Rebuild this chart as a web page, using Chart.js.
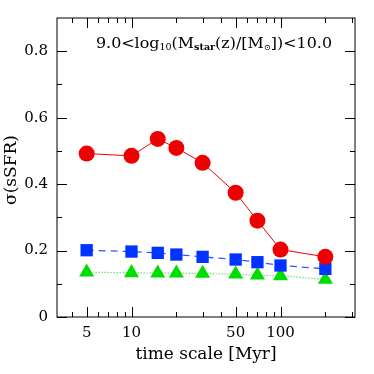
<!DOCTYPE html>
<html>
<head>
<meta charset="utf-8">
<script src="https://cdn.jsdelivr.net/npm/chart.js@4/dist/chart.umd.min.js"></script>
<style>
  html, body { margin: 0; padding: 0; background: #fff; }
  #wrap { width: 374px; height: 374px; }
</style>
</head>
<body>
<div id="wrap"><canvas id="c" width="374" height="374"></canvas></div>
<script>
// --- DATA ---
const timeScale = [5, 10, 15, 20, 30, 50, 70, 100, 200];
const sigmaRed = [0.492, 0.485, 0.536, 0.509, 0.464, 0.374, 0.290, 0.203, 0.181];
const sigmaBlue = [0.201, 0.197, 0.193, 0.188, 0.181, 0.173, 0.165, 0.155, 0.145];
const sigmaGreen = [0.135, 0.133, 0.132, 0.132, 0.131, 0.129, 0.126, 0.124, 0.113];

const xTickLabels = [5, 10, 50, 100];
const xMajorTicks = [5, 10, 50, 100];
const xMinorTicks = [4, 6, 7, 8, 9, 20, 30, 40, 60, 70, 80, 90, 200, 300];
const yTickLabels = [0, 0.2, 0.4, 0.6, 0.8];
const yMinorTicks = [0.1, 0.3, 0.5, 0.7];

const FONT = '"DejaVu Serif", "Liberation Serif", serif';

const pts = ys => timeScale.map((x, i) => ({ x: x, y: ys[i] }));

// draw text squeezed/stretched to a given width, centred at cx
function fitText(ctx, text, cx, cy, width) {
  const w = ctx.measureText(text).width;
  ctx.save();
  ctx.translate(cx, cy);
  ctx.scale(width / w, 1);
  ctx.textAlign = 'center';
  ctx.fillText(text, 0, 0);
  ctx.restore();
}

// frame, inside ticks, labels and annotation
const framePlugin = {
  id: 'frame',
  afterDraw(chart) {
    const ctx = chart.ctx;
    const a = chart.chartArea;
    const xs = chart.scales.x, ys = chart.scales.y;
    ctx.save();
    ctx.strokeStyle = '#000';
    ctx.lineWidth = 1;
    ctx.strokeRect(a.left, a.top, a.right - a.left, a.bottom - a.top);

    const vTick = (v, len) => {
      const px = Math.round(xs.getPixelForValue(v)) + 0.5;
      ctx.beginPath();
      ctx.moveTo(px, a.bottom); ctx.lineTo(px, a.bottom - len);
      ctx.moveTo(px, a.top); ctx.lineTo(px, a.top + len);
      ctx.stroke();
    };
    const hTick = (v, len) => {
      const py = Math.round(ys.getPixelForValue(v)) + 0.5;
      ctx.beginPath();
      ctx.moveTo(a.left, py); ctx.lineTo(a.left + len, py);
      ctx.moveTo(a.right, py); ctx.lineTo(a.right - len, py);
      ctx.stroke();
    };
    xMajorTicks.forEach(v => vTick(v, 10));
    xMinorTicks.forEach(v => vTick(v, 5));
    yTickLabels.forEach(v => hTick(v, 10));
    yMinorTicks.forEach(v => hTick(v, 5));

    ctx.fillStyle = '#000';
    ctx.font = '15px ' + FONT;
    ctx.textAlign = 'center';
    ctx.textBaseline = 'middle';
    xTickLabels.forEach(v => ctx.fillText(String(v), xs.getPixelForValue(v), a.bottom + 16));
    ctx.textAlign = 'right';
    yTickLabels.forEach(v => ctx.fillText(v === 0 ? '0' : v.toFixed(1), a.left - 9, ys.getPixelForValue(v)));

    // axis titles
    ctx.font = '16px ' + FONT;
    fitText(ctx, 'time scale [Myr]', 206, 355, 141);
    ctx.save();
    ctx.translate(12, 170);
    ctx.rotate(-Math.PI / 2);
    fitText(ctx, '\u03c3(sSFR)', 0, 0, 70);
    ctx.restore();

    // annotation with subscripts
    const parts = [
      ['9.0<log', '15px', 0], ['10', '9px', 4], ['(M', '15px', 0], ['star', 'bold 9px', 4],
      ['(z)/[M', '15px', 0], ['\u2299', '8px', 4], ['])<10.0', '15px', 0]
    ];
    let total = 0;
    parts.forEach(([t, f]) => { ctx.font = f + ' ' + FONT; total += ctx.measureText(t).width; });
    const sx = 236 / total;
    ctx.save();
    ctx.translate(96, 44);
    ctx.scale(sx, 1);
    ctx.textAlign = 'left';
    let x = 0;
    parts.forEach(([t, f, dy]) => {
      ctx.font = f + ' ' + FONT;
      ctx.fillText(t, x, dy);
      x += ctx.measureText(t).width;
    });
    ctx.restore();
    ctx.restore();
  }
};

new Chart(document.getElementById('c'), {
  type: 'line',
  data: {
    datasets: [
      {
        data: pts(sigmaRed),
        borderColor: '#ee0000',
        backgroundColor: '#ee0000',
        borderWidth: 1,
        pointStyle: 'circle',
        pointRadius: 8,
        pointBorderWidth: 0
      },
      {
        data: pts(sigmaBlue),
        borderColor: '#3355ff',
        backgroundColor: '#0033ff',
        borderWidth: 1.3,
        borderDash: [7, 5],
        pointStyle: 'rect',
        pointRadius: 8.7,
        pointBorderWidth: 0
      },
      {
        data: pts(sigmaGreen),
        borderColor: '#22dd22',
        backgroundColor: '#00dd00',
        borderWidth: 1.2,
        borderDash: [1, 2],
        pointStyle: 'triangle',
        pointRadius: 8.7,
        pointBorderWidth: 0
      }
    ]
  },
  options: {
    responsive: false,
    animation: false,
    layout: { padding: { left: 57, right: 19, top: 18, bottom: 57 } },
    plugins: { legend: { display: false }, tooltip: { enabled: false } },
    scales: {
      x: { type: 'logarithmic', min: 3.162, max: 316.2, display: false },
      y: { type: 'linear', min: 0, max: 0.9, display: false }
    }
  },
  plugins: [framePlugin]
});
</script>
</body>
</html>
